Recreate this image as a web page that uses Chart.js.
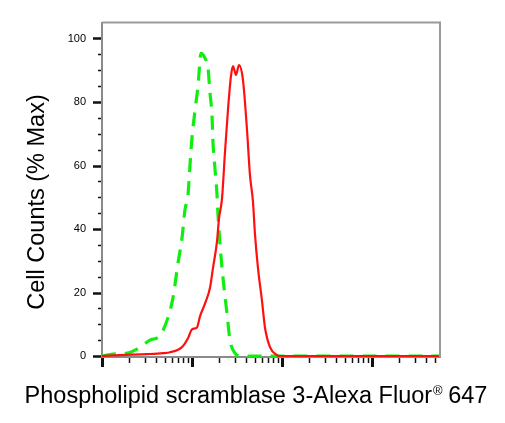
<!DOCTYPE html>
<html>
<head>
<meta charset="utf-8">
<script src="https://cdn.jsdelivr.net/npm/chart.js@4.4.1/dist/chart.umd.min.js"></script>
<style>
  html, body { margin: 0; padding: 0; background: #fff; }
  #wrap { width: 505px; height: 423px; }
</style>
</head>
<body>
<div id="wrap"><canvas id="c"></canvas></div>
<script>
// ── DATA ──────────────────────────────────────────────────────────────────
// control (green, dashed)
const ctrlX = [10, 13.2, 19, 24.5, 34.1, 44.1, 54.1, 61.5, 69.9, 77.4, 83.6, 90.3, 95, 100, 108, 116.6,
  125.9, 139.4, 150.6, 158.5, 166.8, 171.1, 180.2, 189.6, 194.5, 204.8, 221, 244.9, 264.3, 300.6, 341.5, 57000];
const ctrlY = [0, 0.6, 0.9, 2.2, 5.0, 6.5, 12.1, 18.4, 29.3, 37.1, 46.1, 50.8, 60.1, 68.8, 77.3, 85.0,
  95.3, 93.8, 90.7, 82.9, 75.7, 67.3, 58.9, 50.8, 44.5, 35.2, 24.6, 13.4, 5.0, 0.9, 0, 0];
// stained sample (red, solid)
const stainX = [10, 15.8, 31.6, 47.6, 57, 77.4, 90.3, 100, 113.6, 122.7, 139.4, 158.5, 171.1, 189.6, 199.5,
  215.4, 232.6, 251.2, 271.2, 285.4, 308.2, 332.7, 368.6, 408.4, 440.6, 476, 501.2, 541.2, 599.5, 647.1,
  735.6, 879, 950.6, 57000];
const stainY = [0, 0.3, 0.6, 0.9, 1.2, 2.8, 5.6, 8.4, 9.0, 12.5, 16.5, 21.5, 27.7, 36.1, 43.3,
  49.5, 64.2, 77.6, 88.2, 91.3, 88.5, 91.6, 86.9, 71.3, 57.0, 48.6, 38.3, 27.7, 17.4, 9.0,
  2.8, 0.3, 0, 0];

const yLabels = [0, 20, 40, 60, 80, 100];
const yMinorStep = 5;
const decades = [10, 100, 1000, 10000];
const xTitle = ["Phospholipid scramblase 3-Alexa Fluor", "\u00AE", " 647"];
const yTitle = "Cell Counts (% Max)";

const FONT = "Arial, 'Liberation Sans', sans-serif";
const pts = (xs, ys) => xs.map((x, i) => ({ x, y: ys[i] }));

// ── tick marks, frame and axis titles ──────────────────────────────────────
const axisMarks = {
  id: "axisMarks",
  afterDraw(chart) {
    const { ctx, chartArea: a, scales: { x, y } } = chart;
    ctx.save();
    // top / right frame
    ctx.strokeStyle = "#9a9a9a";
    ctx.lineWidth = 2;
    ctx.beginPath();
    ctx.moveTo(a.left, a.top); ctx.lineTo(a.right, a.top); ctx.lineTo(a.right, a.bottom);
    ctx.stroke();

    ctx.strokeStyle = "#111";
    // y ticks
    for (let v = 0; v <= 100; v += yMinorStep) {
      const py = Math.round(y.getPixelForValue(v)) + 0.5;
      const major = v % 20 === 0;
      ctx.lineWidth = major ? 2.5 : 1.5;
      ctx.beginPath(); ctx.moveTo(a.left - (major ? 9 : 4), py); ctx.lineTo(a.left - 1, py); ctx.stroke();
    }
    // x ticks (log decades)
    decades.forEach(d => {
      for (let n = 1; n <= 9; n++) {
        const v = d * n;
        if (v > x.max) break;
        const px = Math.round(x.getPixelForValue(v)) + 0.5;
        const major = n === 1;
        ctx.lineWidth = major ? 3 : 1.5;
        ctx.beginPath(); ctx.moveTo(px, a.bottom + 1); ctx.lineTo(px, a.bottom + (major ? 10 : 6)); ctx.stroke();
      }
    });

    ctx.fillStyle = "#000";
    ctx.textBaseline = "alphabetic";
    // y title, rotated
    ctx.save();
    ctx.font = "23.5px " + FONT;
    ctx.translate(44, 202);
    ctx.rotate(-Math.PI / 2);
    ctx.textAlign = "center";
    ctx.fillText(yTitle, 0, 0);
    ctx.restore();

    // x title with superscript ®
    ctx.font = "23.5px " + FONT;
    const w0 = ctx.measureText(xTitle[0]).width;
    const w2 = ctx.measureText(xTitle[2]).width;
    ctx.font = "13px " + FONT;
    const w1 = ctx.measureText(xTitle[1]).width;
    const sx = 256 - (w0 + w1 + w2) / 2;
    const base = 403;
    ctx.font = "23.5px " + FONT;
    ctx.fillText(xTitle[0], sx, base);
    ctx.font = "13px " + FONT;
    ctx.fillText(xTitle[1], sx + w0 + 1, base - 8);
    ctx.font = "23.5px " + FONT;
    ctx.fillText(xTitle[2], sx + w0 + w1, base);
    ctx.restore();
  }
};

new Chart(document.getElementById("c"), {
  type: "line",
  data: {
    datasets: [
      {
        label: "Stained", data: pts(stainX, stainY),
        borderColor: "#ff1010", borderWidth: 2.2, fill: false,
        pointRadius: 0, cubicInterpolationMode: "monotone",
      },
      {
        label: "Control", data: pts(ctrlX, ctrlY),
        borderColor: "#10ee10", borderWidth: 3.2, borderDash: [14, 9], fill: false,
        pointRadius: 0, cubicInterpolationMode: "monotone",
      },
    ],
  },
  options: {
    responsive: true, maintainAspectRatio: false, animation: false,
    layout: { padding: { top: 19, right: 65, left: 0, bottom: 0 } },
    plugins: { legend: { display: false }, tooltip: { enabled: false } },
    scales: {
      x: {
        type: "logarithmic", min: 10, max: 57000,
        grid: { display: false, drawTicks: false },
        ticks: { display: false },
        border: { display: true, color: "#8a8a8a", width: 2 },
        afterFit: s => { s.height = 66; },
      },
      y: {
        min: -0.3, max: 105,
        afterBuildTicks: s => { s.ticks = yLabels.map(v => ({ value: v })); },
        grid: { display: false, drawTicks: false },
        ticks: { color: "#000", padding: 16, font: { family: FONT, size: 11 } },
        border: { display: true, color: "#8a8a8a", width: 2 },
        afterFit: s => { s.width = 102; },
      },
    },
  },
  plugins: [axisMarks],
});
</script>
</body>
</html>
